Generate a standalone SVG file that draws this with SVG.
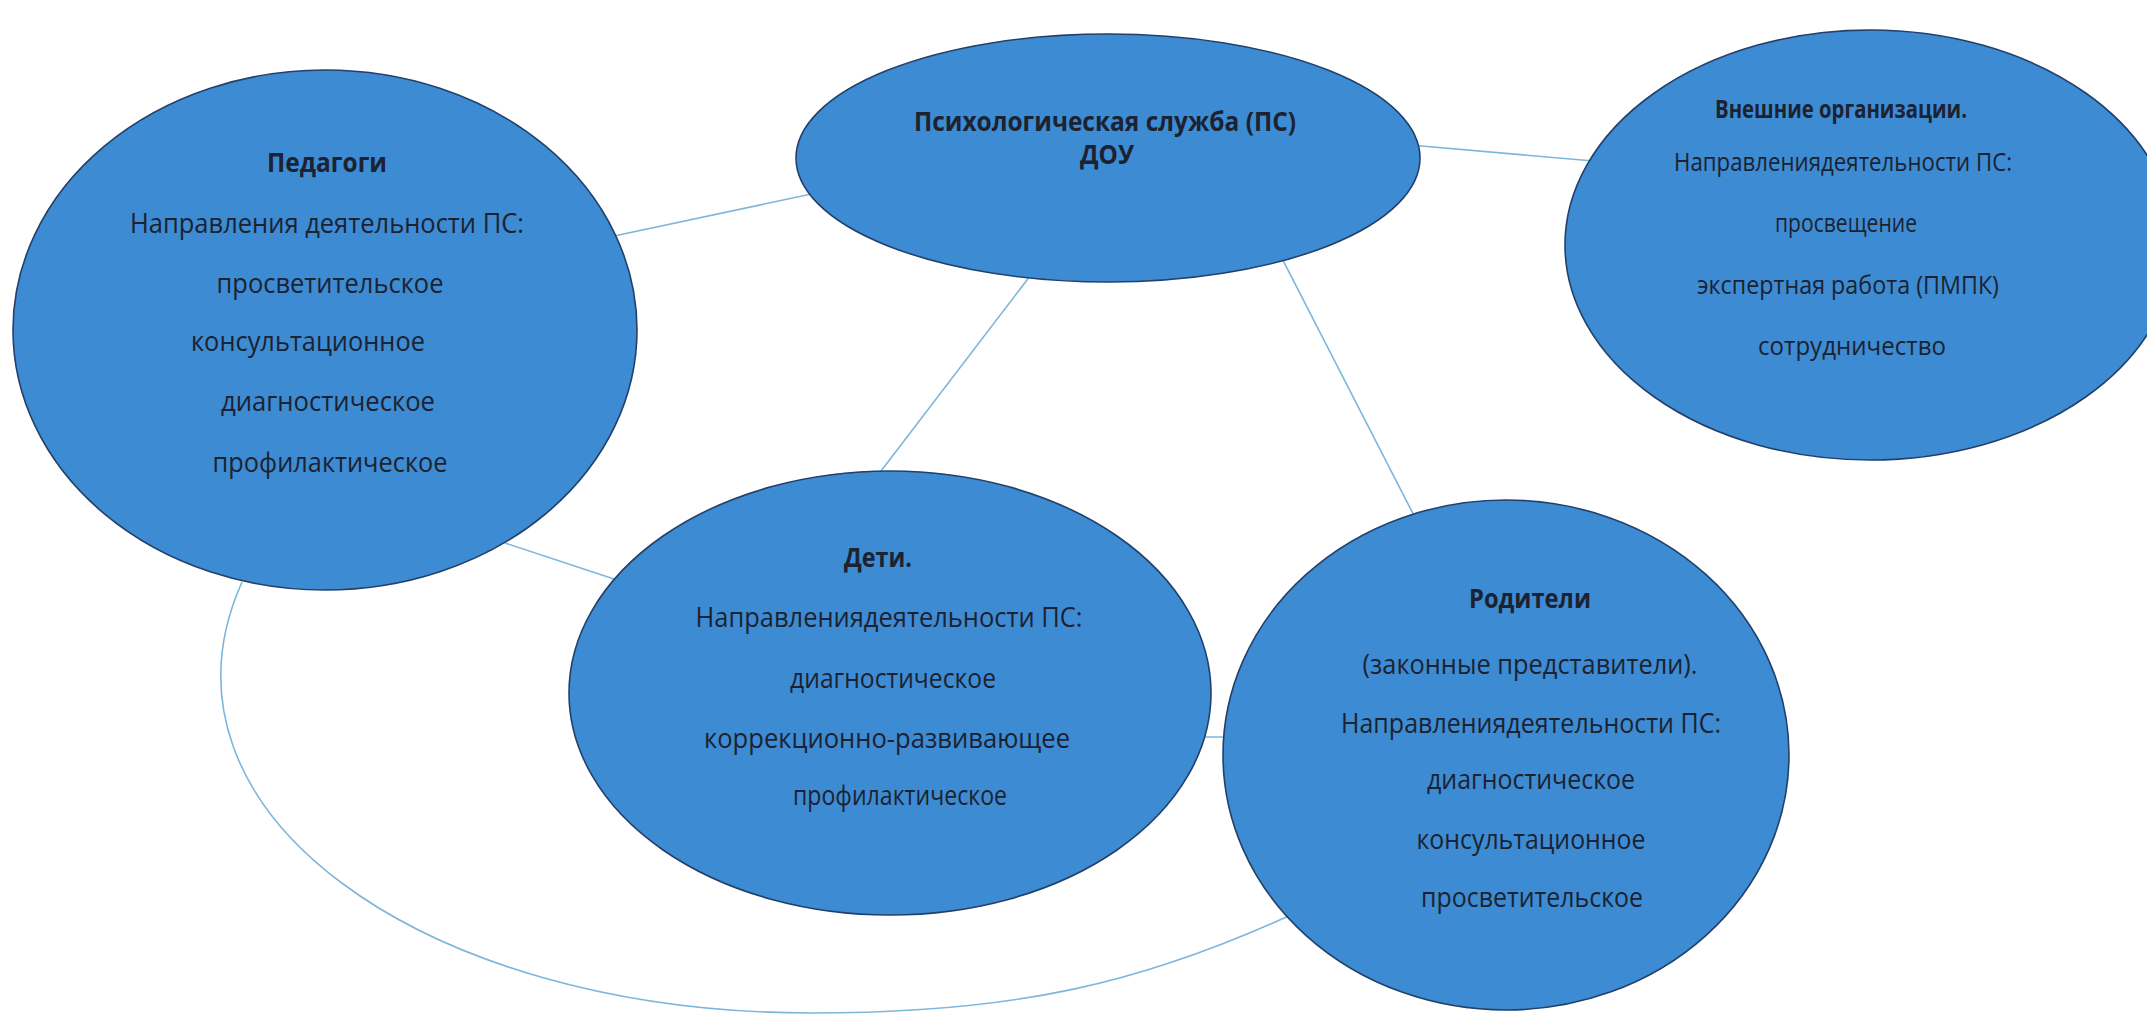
<svg xmlns="http://www.w3.org/2000/svg" width="2147" height="1015" viewBox="0 0 2147 1015">
<style>
.node{fill:#3c8bd3;stroke:#22406a;stroke-width:1.6}
.conn{fill:none;stroke:#7db6dc;stroke-width:1.6}
text{font-family:"Open Sans","Noto Sans","DejaVu Sans",sans-serif;font-size:27px;fill:#1c2230;text-anchor:middle}
.b{font-weight:bold}
.s{font-size:25px}
</style>
<rect width="2147" height="1015" fill="#ffffff"/>
<g id="connectors">
<line class="conn" x1="600" y1="239" x2="830" y2="190"/>
<line class="conn" x1="1410" y1="145" x2="1605" y2="162"/>
<line class="conn" x1="1040" y1="263" x2="878" y2="475"/>
<line class="conn" x1="1270" y1="235" x2="1425" y2="537"/>
<line class="conn" x1="505" y1="543" x2="620" y2="581"/>
<line class="conn" x1="1195" y1="737" x2="1240" y2="737"/>
<path class="conn" d="M242 582 C140 810 420 1013 812 1013 C1012 1013 1144 985 1310 906"/>
</g>
<g id="pedagogi">
<ellipse class="node" cx="325" cy="330" rx="312" ry="260"/>
<text class="b" x="327" y="172" textLength="120" lengthAdjust="spacingAndGlyphs">Педагоги</text>
<text x="327" y="233" textLength="394" lengthAdjust="spacingAndGlyphs">Направления деятельности ПС:</text>
<text x="330" y="293" textLength="227" lengthAdjust="spacingAndGlyphs">просветительское</text>
<text x="308" y="351" textLength="234" lengthAdjust="spacingAndGlyphs">консультационное</text>
<text x="328" y="411" textLength="214" lengthAdjust="spacingAndGlyphs">диагностическое</text>
<text x="330" y="472" textLength="235" lengthAdjust="spacingAndGlyphs">профилактическое</text>
</g>
<g id="ps">
<ellipse class="node" cx="1108" cy="158" rx="312" ry="124"/>
<text class="b" x="1105" y="131" textLength="382" lengthAdjust="spacingAndGlyphs">Психологическая служба (ПС)</text>
<text class="b" x="1107" y="164" textLength="54" lengthAdjust="spacingAndGlyphs">ДОУ</text>
</g>
<g id="vneshnie">
<ellipse class="node" cx="1870" cy="245" rx="305" ry="215"/>
<text class="b s" x="1841" y="118" textLength="252" lengthAdjust="spacingAndGlyphs">Внешние организации.</text>
<text class="s" x="1843" y="171" textLength="338" lengthAdjust="spacingAndGlyphs">Направлениядеятельности ПС:</text>
<text class="s" x="1846" y="232" textLength="142" lengthAdjust="spacingAndGlyphs">просвещение</text>
<text class="s" x="1848" y="294" textLength="302" lengthAdjust="spacingAndGlyphs">экспертная работа (ПМПК)</text>
<text class="s" x="1852" y="355" textLength="188" lengthAdjust="spacingAndGlyphs">сотрудничество</text>
</g>
<g id="deti">
<ellipse class="node" cx="890" cy="693" rx="321" ry="222"/>
<text class="b" x="878" y="567" textLength="68" lengthAdjust="spacingAndGlyphs">Дети.</text>
<text x="889" y="627" textLength="387" lengthAdjust="spacingAndGlyphs">Направлениядеятельности ПС:</text>
<text x="893" y="688" textLength="206" lengthAdjust="spacingAndGlyphs">диагностическое</text>
<text x="887" y="748" textLength="366" lengthAdjust="spacingAndGlyphs">коррекционно-развивающее</text>
<text x="900" y="805" textLength="214" lengthAdjust="spacingAndGlyphs">профилактическое</text>
</g>
<g id="roditeli">
<ellipse class="node" cx="1506" cy="755" rx="283" ry="255"/>
<text class="b" x="1530" y="608" textLength="122" lengthAdjust="spacingAndGlyphs">Родители</text>
<text x="1530" y="674" textLength="335" lengthAdjust="spacingAndGlyphs">(законные представители).</text>
<text x="1531" y="733" textLength="380" lengthAdjust="spacingAndGlyphs">Направлениядеятельности ПС:</text>
<text x="1531" y="789" textLength="208" lengthAdjust="spacingAndGlyphs">диагностическое</text>
<text x="1531" y="849" textLength="229" lengthAdjust="spacingAndGlyphs">консультационное</text>
<text x="1532" y="907" textLength="222" lengthAdjust="spacingAndGlyphs">просветительское</text>
</g>
</svg>
